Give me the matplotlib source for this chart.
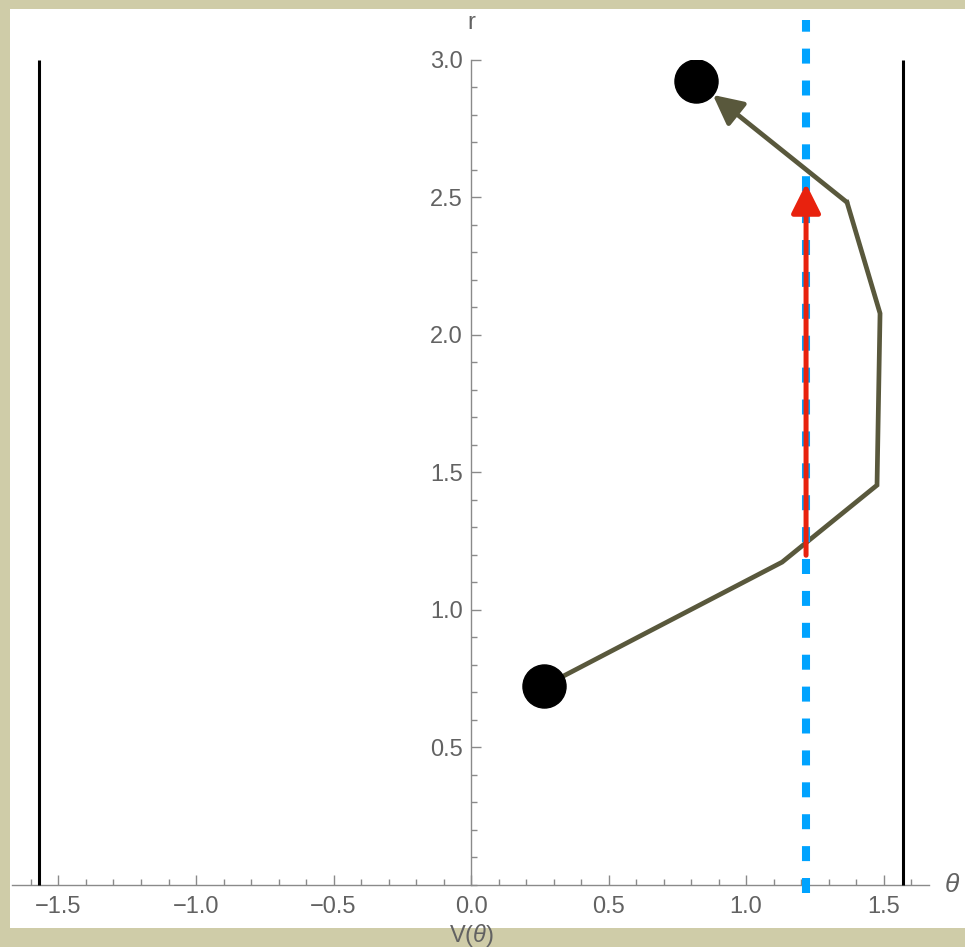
import numpy as np
import matplotlib
matplotlib.use("Agg")
import matplotlib.pyplot as plt
from matplotlib.patches import Rectangle
from matplotlib.ticker import MultipleLocator, FixedLocator

plt.rcParams["font.family"] = ["Liberation Sans", "DejaVu Sans"]
plt.rcParams["mathtext.fontset"] = "custom"
plt.rcParams["mathtext.it"] = "Liberation Sans:italic"
plt.rcParams["mathtext.rm"] = "Liberation Sans"

# ---- data ----
theta_path = [0.266, 0.607, 1.131, 1.476, 1.487, 1.367, 0.818]
r_path = [0.722, 0.900, 1.173, 1.453, 2.078, 2.482, 2.922]

walls = [-np.pi / 2, np.pi / 2]
wall_r = [0.0, 3.0]

theta_star = 1.218          # dashed vertical marker
dash_r = [-0.03, 3.145]
red_r = [1.198, 2.55]       # red arrow start / tip

x_ticks = [-1.5, -1.0, -0.5, 0.0, 0.5, 1.0, 1.5]
y_ticks = [0.5, 1.0, 1.5, 2.0, 2.5, 3.0]

olive = "#59583c"
grey_axis = "#8a8a8a"
grey_text = "#626262"

fig = plt.figure(figsize=(9.65, 9.47), dpi=100)
fig.patch.set_facecolor("#cfcca8")
panel = Rectangle((10 / 965, 19 / 947), 955 / 965, 919 / 947,
                  transform=fig.transFigure, facecolor="white",
                  edgecolor="none", zorder=-5)
fig.add_artist(panel)

ax = fig.add_axes([12 / 965, (947 - 884.5) / 947, 917 / 965, 824.5 / 947])
ax.set_zorder(2)
ax.set_facecolor("none")
ax.set_xlim(-1.669, 1.665)
ax.set_ylim(0, 3.0)

# centred axes, Mathematica style
for side in ("top", "right"):
    ax.spines[side].set_visible(False)
ax.spines["left"].set_position(("data", 0))
ax.spines["bottom"].set_position(("data", 0))
for side in ("left", "bottom"):
    ax.spines[side].set_color(grey_axis)
    ax.spines[side].set_linewidth(1.0)

ax.xaxis.set_major_locator(FixedLocator(x_ticks))
ax.xaxis.set_minor_locator(MultipleLocator(0.1))
ax.yaxis.set_major_locator(FixedLocator(y_ticks))
ax.yaxis.set_minor_locator(MultipleLocator(0.1))
ax.set_xticklabels([f"{v:.1f}".replace("-", "\u2212") for v in x_ticks])
ax.set_yticklabels([f"{v:.1f}" for v in y_ticks])
ax.tick_params(which="both", direction="in", color=grey_axis, width=1.0,
               labelcolor=grey_text, labelsize=17)
ax.tick_params(which="major", length=7)
ax.tick_params(which="minor", length=4)
ax.tick_params(axis="x", pad=8)
ax.tick_params(axis="y", pad=6)

# axis labels
ax.text(0, 3.136, "r", ha="center", va="center", fontsize=17,
        color=grey_text, clip_on=False)
ax.text(1.75, 0.0, r"$\theta$", ha="center", va="center", fontsize=19,
        color=grey_text, clip_on=False)
ax.text(0, -0.184, r"V($\theta$)", ha="center", va="center", fontsize=17,
        color=grey_text, clip_on=False)

# walls at +-pi/2
for w in walls:
    ax.plot([w, w], wall_r, color="black", lw=2.2, solid_capstyle="butt",
            zorder=3, clip_on=False)

# dashed marker
ax.plot([theta_star, theta_star], dash_r, color="#00a3ff", lw=5.8,
        linestyle=(0, (1.86, 2.1)), zorder=4, clip_on=False)

# trajectory
ax.plot(theta_path[:-1], r_path[:-1], color=olive, lw=3.4,
        solid_joinstyle="miter", zorder=3)
ax.annotate("", xy=(theta_path[-1], r_path[-1]),
            xytext=(theta_path[-2], r_path[-2]),
            arrowprops=dict(arrowstyle="-|>,head_length=0.6,head_width=0.3",
                            color=olive, lw=3.4, shrinkA=0, shrinkB=15.5,
                            mutation_scale=30),
            zorder=3)
ax.plot([theta_path[0], theta_path[-1]], [r_path[0], r_path[-1]],
        linestyle="none", marker="o", markersize=31, color="black", zorder=6)

# red arrow
ax.annotate("", xy=(theta_star, red_r[1]), xytext=(theta_star, red_r[0]),
            arrowprops=dict(arrowstyle="-|>,head_length=0.6,head_width=0.3",
                            color="#e8220e", lw=3.6, shrinkA=0, shrinkB=0,
                            mutation_scale=30),
            zorder=5)

fig.savefig("out.png", dpi=100, facecolor=fig.get_facecolor())
